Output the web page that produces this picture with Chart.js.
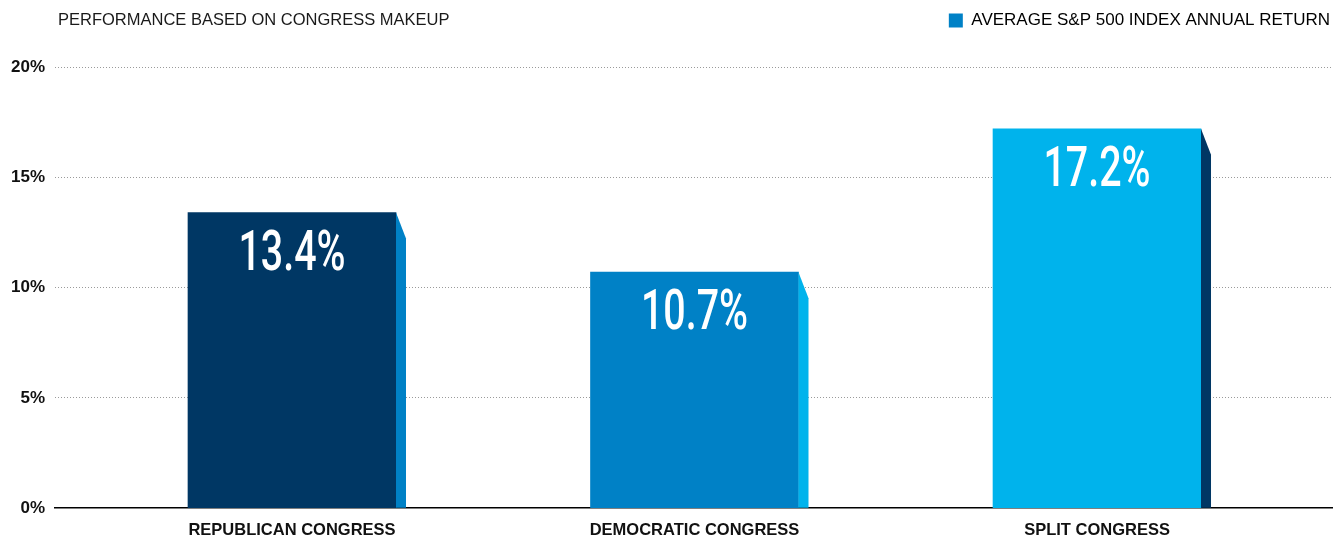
<!DOCTYPE html>
<html>
<head>
<meta charset="utf-8">
<script src="https://cdn.jsdelivr.net/npm/chart.js@4"></script>
<style>
  html, body { margin: 0; padding: 0; background: #fff; }
  #wrap { position: relative; width: 1333px; height: 537px; }
  #title { position: absolute; left: 58px; top: 10px; font: 16.5px "Liberation Sans", Arial, sans-serif; color: #1a1a1a; }
  canvas { display: block; }
</style>
</head>
<body>
<div id="wrap">
  <div id="title">PERFORMANCE BASED ON CONGRESS MAKEUP</div>
  <canvas id="c" width="1333" height="537"></canvas>
</div>
<script>
const categories = ["REPUBLICAN CONGRESS", "DEMOCRATIC CONGRESS", "SPLIT CONGRESS"];
const returns = [13.4, 10.7, 17.2];
const valueLabels = ["13.4%", "10.7%", "17.2%"];
const yTicks = [0, 5, 10, 15, 20];
const seriesName = "AVERAGE S&P 500 INDEX ANNUAL RETURN";

const barColors = ["#003764", "#0081c6", "#00b3ec"];
const sideColors = ["#0081c6", "#00b3ec", "#003764"];

const legendSpace = {
  id: 'legendSpace',
  beforeInit(chart) {
    const fit = chart.legend.fit;
    chart.legend.fit = function () {
      fit.call(this);
      this.height += 28;
    };
  }
};

const sidePlugin = {
  id: 'sides',
  afterDatasetsDraw(chart) {
    const ctx = chart.ctx;
    const meta = chart.getDatasetMeta(0);
    meta.data.forEach((bar, i) => {
      const right = bar.x + bar.width / 2;
      const top = bar.y, base = bar.base;
      ctx.save();
      ctx.fillStyle = sideColors[i];
      ctx.beginPath();
      ctx.moveTo(right, top);
      ctx.lineTo(right + 10, top + 26);
      ctx.lineTo(right + 10, base);
      ctx.lineTo(right, base);
      ctx.closePath();
      ctx.fill();
      // value label
      ctx.fillStyle = "#ffffff";
      ctx.textAlign = "center";
      ctx.textBaseline = "middle";
      ctx.font = '500 56px Roboto, "Liberation Sans", sans-serif';
      const w = ctx.measureText(valueLabels[i]).width;
      const sx = 107 / w;
      ctx.translate(bar.x, top + 43);
      ctx.scale(sx, 1);
      ctx.fillText(valueLabels[i], 0, 0);
      ctx.restore();
    });
  }
};

const data = categories.map((c, i) => ({ x: i, y: returns[i] }));

new Chart(document.getElementById('c'), {
  type: 'bar',
  data: {
    datasets: [{
      label: seriesName,
      data: data,
      backgroundColor: barColors,
      barThickness: 208,
      borderWidth: 0
    }]
  },
  options: {
    responsive: false,
    animation: false,
    layout: { padding: { left: 0, right: 0, top: 9, bottom: -15 } },
    plugins: {
      title: { display: false },
      tooltip: { enabled: false },
      legend: {
        display: true,
        position: 'top',
        align: 'end',
        labels: {
          boxWidth: 14,
          boxHeight: 14,
          padding: 3,
          color: '#1a1a1a',
          font: { family: '"Liberation Sans", Arial, sans-serif', size: 17 },
          generateLabels: () => [{ text: seriesName, fillStyle: '#0081c6', strokeStyle: '#0081c6', lineWidth: 0, datasetIndex: 0 }]
        }
      }
    },
    scales: {
      x: {
        type: 'linear',
        offset: false,
        min: -0.5888,
        max: 2.5863,
        afterBuildTicks: (axis) => { axis.ticks = categories.map((c, i) => ({ value: i })); },
        ticks: {
          callback: (v) => categories[v] || '',
          color: '#111',
          font: { family: '"Liberation Sans", Arial, sans-serif', size: 16.5, weight: 'bold' },
          padding: 12,
          maxRotation: 0,
          autoSkip: false
        },
        grid: { display: false, drawTicks: false, offset: false },
        border: { display: true, color: '#000', width: 1.5 }
      },
      y: {
        min: 0,
        max: 20,
        afterBuildTicks: (axis) => { axis.ticks = yTicks.map(v => ({ value: v })); },
        afterFit: (axis) => { axis.width = 55; },
        ticks: {
          callback: (v) => v + '%',
          color: '#111',
          font: { family: '"Liberation Sans", Arial, sans-serif', size: 17, weight: 'bold' },
          padding: 10
        },
        grid: {
          drawTicks: false,
          color: (ctx) => ctx.tick && ctx.tick.value === 0 ? 'rgba(0,0,0,0)' : '#9a9a9a',
          lineWidth: 1
        },
        border: { display: false, dash: [1, 2] }
      }
    }
  },
  plugins: [legendSpace, sidePlugin]
});
</script>
</body>
</html>
